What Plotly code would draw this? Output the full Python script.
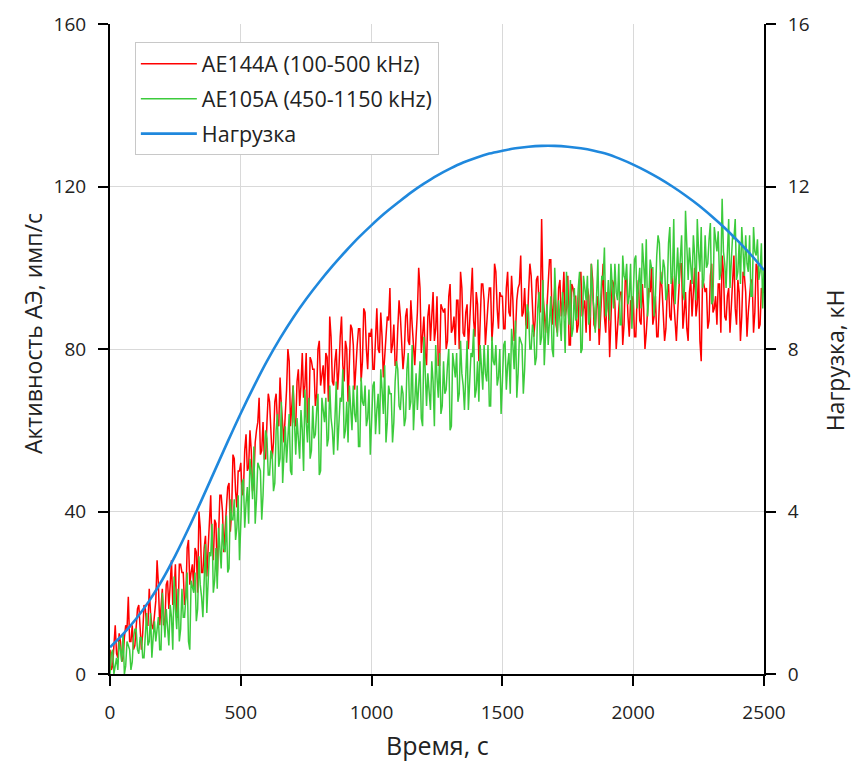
import plotly.graph_objects as go

# ---- data ----
# AE activity (counts/s) sampled on two interleaved time grids (s)
time_a = list(range(0, 2501, 10))   # 0, 10, ..., 2500
time_b = list(range(5, 2500, 10))   # 5, 15, ..., 2495
time_load = list(range(0, 2501, 50))

ae144a_a = [
    6, 2, 12, 4, 8, 4, 12, 19, 8, 6, 13, 17, 6, 17, 12, 21, 12, 14, 28, 12,
    21, 13, 23, 21, 17, 27, 14, 27, 25, 19, 33, 25, 21, 30, 40, 25, 31, 24, 38, 31,
    38, 24, 44, 40, 37, 46, 35, 54, 45, 50, 52, 45, 59, 51, 55, 48, 60, 68, 55, 53,
    62, 67, 53, 67, 62, 73, 61, 64, 80, 61, 71, 61, 75, 71, 68, 79, 62, 77, 75, 69,
    82, 73, 69, 78, 88, 72, 77, 70, 83, 76, 82, 67, 86, 81, 77, 85, 72, 90, 80, 84,
    85, 75, 90, 79, 83, 77, 88, 95, 81, 76, 85, 88, 75, 88, 82, 92, 80, 83, 100, 79,
    88, 76, 91, 87, 82, 93, 76, 90, 90, 82, 96, 85, 81, 92, 99, 84, 89, 80, 95, 87,
    94, 77, 96, 92, 87, 95, 82, 101, 90, 94, 93, 85, 99, 88, 92, 84, 95, 103, 89, 86,
    94, 98, 83, 97, 91, 112, 88, 90, 102, 86, 95, 84, 97, 92, 88, 98, 81, 95, 93, 86,
    99, 90, 84, 93, 101, 86, 91, 81, 96, 88, 94, 78, 97, 91, 86, 94, 81, 98, 88, 92,
    93, 83, 97, 86, 90, 84, 95, 100, 88, 83, 92, 95, 82, 94, 88, 98, 86, 89, 101, 85,
    94, 82, 97, 93, 88, 99, 77, 96, 95, 87, 101, 90, 86, 96, 103, 88, 93, 84, 98, 90,
    97, 82, 99, 94, 89, 97, 84, 101, 85, 95, 94,
]
ae144a_b = [
    1, 7, 5, 10, 3, 9, 11, 8, 12, 7, 16, 11, 10, 16, 12, 15, 11, 18, 22, 17,
    12, 22, 16, 28, 20, 14, 27, 25, 17, 31, 22, 27, 31, 20, 36, 25, 34, 30, 44, 28,
    37, 32, 44, 30, 41, 47, 40, 53, 41, 50, 44, 55, 50, 60, 45, 57, 62, 54, 62, 53,
    69, 60, 57, 69, 61, 66, 57, 70, 77, 66, 62, 72, 66, 79, 71, 62, 78, 75, 66, 80,
    71, 76, 79, 67, 83, 71, 80, 75, 88, 72, 80, 75, 85, 70, 81, 85, 77, 89, 75, 83,
    75, 85, 80, 89, 73, 83, 87, 79, 86, 76, 92, 82, 79, 90, 81, 86, 76, 89, 95, 83,
    79, 88, 82, 94, 85, 76, 91, 89, 80, 93, 84, 88, 92, 80, 95, 83, 91, 87, 100, 83,
    91, 85, 96, 81, 91, 95, 87, 99, 85, 93, 85, 95, 89, 98, 82, 92, 96, 88, 95, 85,
    101, 91, 87, 98, 89, 94, 84, 96, 102, 90, 86, 95, 88, 99, 90, 81, 96, 93, 84, 97,
    88, 92, 95, 82, 97, 85, 93, 88, 101, 84, 92, 86, 96, 80, 90, 94, 86, 97, 83, 91,
    83, 93, 87, 96, 80, 90, 94, 86, 93, 83, 99, 89, 85, 96, 87, 92, 82, 95, 101, 89,
    85, 94, 88, 100, 91, 82, 97, 94, 85, 98, 89, 93, 96, 84, 99, 87, 95, 90, 103, 86,
    94, 88, 98, 83, 93, 97, 89, 100, 86, 94,
]

ae105a_a = [
    0, 6, 2, 1, 6, 10, 2, 7, 1, 9, 11, 5, 9, 4, 15, 8, 4, 13, 12, 6,
    20, 9, 11, 17, 6, 16, 21, 11, 14, 19, 8, 23, 20, 13, 29, 19, 25, 15, 30, 37,
    23, 21, 32, 37, 30, 25, 43, 38, 33, 44, 37, 48, 42, 37, 49, 56, 43, 51, 38, 54,
    58, 49, 54, 47, 64, 53, 47, 61, 60, 50, 71, 54, 58, 65, 50, 62, 68, 55, 58, 65,
    49, 68, 62, 56, 71, 60, 65, 55, 68, 75, 60, 57, 66, 71, 62, 56, 73, 66, 61, 70,
    62, 72, 65, 59, 70, 76, 62, 69, 57, 72, 75, 65, 69, 63, 79, 67, 60, 74, 73, 63,
    83, 66, 69, 77, 61, 73, 79, 66, 69, 76, 60, 79, 73, 67, 82, 71, 76, 65, 79, 85,
    70, 67, 76, 81, 72, 66, 83, 76, 71, 80, 72, 82, 76, 69, 81, 87, 74, 82, 69, 85,
    89, 80, 84, 78, 94, 83, 76, 91, 89, 80, 100, 83, 87, 94, 79, 91, 97, 85, 87, 95,
    79, 98, 92, 86, 101, 90, 95, 85, 98, 105, 90, 87, 96, 101, 92, 86, 103, 97, 91, 101,
    93, 103, 96, 90, 101, 107, 93, 100, 88, 103, 106, 96, 100, 94, 110, 98, 91, 105, 104, 94,
    114, 97, 100, 108, 92, 104, 110, 97, 100, 107, 91, 110, 104, 97, 117, 101, 106, 95, 108, 112,
    99, 96, 105, 108, 99, 93, 110, 103, 97, 106, 100,
]
ae105a_b = [
    5, 0, 4, 8, 3, 0, 8, 6, 3, 11, 6, 9, 4, 11, 7, 15, 9, 8, 14, 6,
    13, 16, 7, 14, 24, 11, 8, 21, 14, 25, 6, 21, 25, 16, 22, 14, 32, 22, 29, 20,
    31, 36, 26, 31, 39, 26, 38, 43, 36, 28, 47, 36, 46, 53, 43, 37, 52, 50, 44, 60,
    49, 55, 45, 60, 51, 67, 55, 52, 64, 49, 60, 63, 53, 60, 70, 57, 53, 66, 59, 69,
    50, 64, 68, 58, 63, 54, 72, 61, 67, 58, 67, 71, 60, 64, 71, 56, 67, 71, 63, 54,
    71, 59, 69, 75, 64, 57, 71, 69, 62, 77, 66, 71, 61, 75, 65, 81, 68, 65, 77, 61,
    72, 74, 65, 72, 81, 68, 64, 77, 70, 80, 61, 75, 79, 69, 74, 65, 82, 72, 78, 68,
    77, 81, 70, 74, 81, 66, 77, 81, 73, 64, 81, 70, 79, 85, 75, 68, 83, 81, 75, 91,
    80, 86, 76, 90, 81, 97, 85, 81, 93, 78, 89, 92, 82, 89, 99, 86, 83, 95, 88, 99,
    80, 94, 98, 88, 93, 84, 102, 91, 97, 88, 97, 101, 90, 94, 101, 86, 98, 101, 93, 85,
    102, 90, 100, 106, 95, 88, 102, 100, 93, 108, 97, 102, 92, 106, 96, 112, 99, 96, 108, 92,
    103, 105, 96, 103, 112, 99, 95, 108, 101, 111, 92, 106, 109, 99, 104, 95, 112, 101, 107, 97,
    106, 110, 98, 101, 108, 93, 104, 107, 99, 90,
]

load_kn = [
    0.66, 0.98, 1.36, 1.80, 2.32, 2.92, 3.58, 4.28, 5.00, 5.72,
    6.42, 7.08, 7.70, 8.26, 8.77, 9.23, 9.65, 10.04, 10.40, 10.74,
    11.05, 11.34, 11.60, 11.85, 12.07, 12.27, 12.44, 12.59, 12.71, 12.81,
    12.88, 12.94, 12.98, 13.00, 13.00, 12.98, 12.94, 12.88, 12.80, 12.68,
    12.54, 12.38, 12.20, 12.00, 11.78, 11.54, 11.27, 10.98, 10.66, 10.32,
    9.94,
]

x_ticks = [0, 500, 1000, 1500, 2000, 2500]
y_ticks = [0, 40, 80, 120, 160]
y2_ticks = [0, 4, 8, 12, 16]


def merge(t1, v1, t2, v2):
    pairs = sorted(zip(t1 + t2, v1 + v2))
    return [p[0] for p in pairs], [p[1] for p in pairs]


t_red, v_red = merge(time_a, ae144a_a, time_b, ae144a_b)
t_grn, v_grn = merge(time_a, ae105a_a, time_b, ae105a_b)

FONT = "Open Sans"
TXT = "#222222"

fig = go.Figure()
fig.add_trace(go.Scatter(
    x=t_red, y=v_red, mode="lines", name="AE144A (100-500 kHz)",
    legendgroup="a", line=dict(color="#FF0000", width=1.5),
))
fig.add_trace(go.Scatter(
    x=t_grn, y=v_grn, mode="lines", name="AE105A (450-1150 kHz)",
    legendgroup="b", line=dict(color="#3CCB3C", width=1.5),
))
fig.add_trace(go.Scatter(
    x=time_load, y=load_kn, mode="lines", name="Нагрузка", yaxis="y2",
    legendgroup="c", line=dict(color="#1F88DD", width=2.6, shape="spline"),
))

axis_common = dict(
    showline=True, linecolor="black", linewidth=2,
    ticks="outside", ticklen=10, tickwidth=2, tickcolor="black",
    tickfont=dict(family=FONT, size=19, color=TXT),
    zeroline=False,
)

fig.update_layout(
    width=851, height=763,
    margin=dict(l=110, r=87, t=24, b=89),
    paper_bgcolor="white", plot_bgcolor="white",
    font=dict(family=FONT, color=TXT),
    xaxis=dict(
        range=[0, 2500], tickvals=x_ticks,
        showgrid=True, gridcolor="#D9D9D9", gridwidth=1,
        ticklabelstandoff=10,
        **axis_common,
    ),
    yaxis=dict(
        range=[0, 160], tickvals=y_ticks,
        showgrid=True, gridcolor="#D9D9D9", gridwidth=1,
        ticklabelstandoff=8,
        **axis_common,
    ),
    yaxis2=dict(
        range=[0, 16], tickvals=y2_ticks, overlaying="y", side="right",
        showgrid=False, ticklabelstandoff=8,
        **axis_common,
    ),
    legend=dict(
        x=0.038, y=0.972, xanchor="left", yanchor="top",
        bgcolor="white", bordercolor="#C8C8C8", borderwidth=1,
        font=dict(family=FONT, size=21.5, color=TXT),
        tracegroupgap=4, itemwidth=56,
    ),
    annotations=[
        dict(text="Время, с", xref="paper", yref="paper", x=0.5, y=-0.1092,
             xanchor="center", yanchor="middle", showarrow=False,
             font=dict(family=FONT, size=25, color=TXT)),
        dict(text="Активность АЭ, имп/с", xref="paper", yref="paper",
             x=-0.1177, y=0.523, textangle=-90,
             xanchor="center", yanchor="middle", showarrow=False,
             font=dict(family=FONT, size=23, color=TXT)),
        dict(text="Нагрузка, кН", xref="paper", yref="paper",
             x=1.109, y=0.483, textangle=-90,
             xanchor="center", yanchor="middle", showarrow=False,
             font=dict(family=FONT, size=23, color=TXT)),
    ],
    showlegend=True,
)

fig.write_html("out.html")
